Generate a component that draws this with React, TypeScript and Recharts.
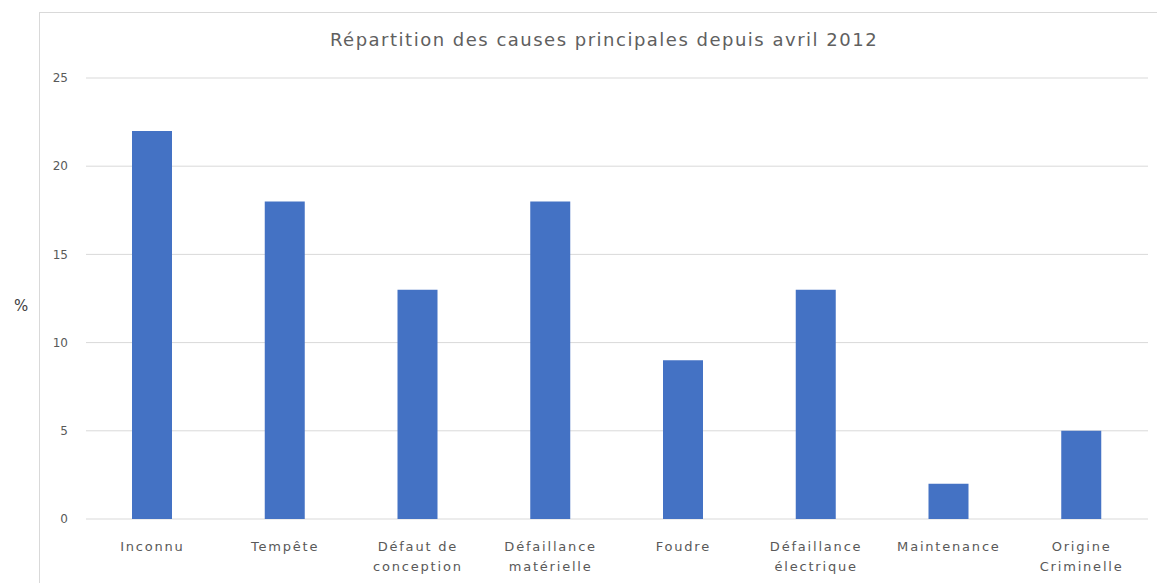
import { BarChart, Bar, XAxis, YAxis, CartesianGrid } from 'recharts';

// Causes and share (%)
const causes = [
  'Inconnu',
  'Tempête',
  'Défaut de\nconception',
  'Défaillance\nmatérielle',
  'Foudre',
  'Défaillance\nélectrique',
  'Maintenance',
  'Origine\nCriminelle',
];
const percents = [22, 18, 13, 18, 9, 13, 2, 5];
const yTicks = [0, 5, 10, 15, 20, 25];

const data = causes.map((cause, i) => ({ cause, value: percents[i] }));

const FONT = '"DejaVu Sans", sans-serif';
const GREY = '#595959';

const CauseTick = (props: any) => {
  const { x, y, payload } = props;
  const lines = String(payload.value).split('\n');
  return (
    <text x={x} y={y} textAnchor="middle" fill={GREY} fontSize={13} fontFamily={FONT} letterSpacing={1.8}>
      {lines.map((line: string, i: number) => (
        <tspan key={i} x={x} dy={i === 0 ? 24 : 20}>
          {line}
        </tspan>
      ))}
    </text>
  );
};

export default function App() {
  return (
    <div
      style={{
        position: 'absolute',
        left: 0,
        top: 0,
        width: 1157,
        height: 583,
        overflow: 'hidden',
        background: '#fff',
        fontFamily: FONT,
      }}
    >
      <div
        style={{
          position: 'absolute',
          left: 39,
          top: 12,
          width: 1300,
          height: 700,
          border: '1px solid #D9D9D9',
        }}
      />
      <div
        style={{
          position: 'absolute',
          left: 0,
          width: 1208,
          top: 29,
          textAlign: 'center',
          fontSize: 18,
          color: '#606060',
          letterSpacing: 1.5,
        }}
      >
        Répartition des causes principales depuis avril 2012
      </div>
      <div style={{ position: 'absolute', left: 14, top: 297, fontSize: 15, color: '#404040' }}>%</div>
      <div style={{ position: 'absolute', left: 0, top: 0 }}>
        <BarChart
          width={1157}
          height={583}
          data={data}
          margin={{ top: 78, right: 9, bottom: 14, left: 40 }}
          barSize={40}
        >
          <CartesianGrid vertical={false} stroke="#D9D9D9" />
          <XAxis
            dataKey="cause"
            height={50}
            axisLine={false}
            tickLine={false}
            interval={0}
            tick={<CauseTick />}
          />
          <YAxis
            width={46}
            domain={[0, 25]}
            ticks={yTicks}
            axisLine={false}
            tickLine={false}
            tickSize={0}
            tickMargin={18}
            tick={{ fill: GREY, fontSize: 12, fontFamily: FONT }}
          />
          <Bar dataKey="value" fill="#4472C4" isAnimationActive={false} />
        </BarChart>
      </div>
    </div>
  );
}
